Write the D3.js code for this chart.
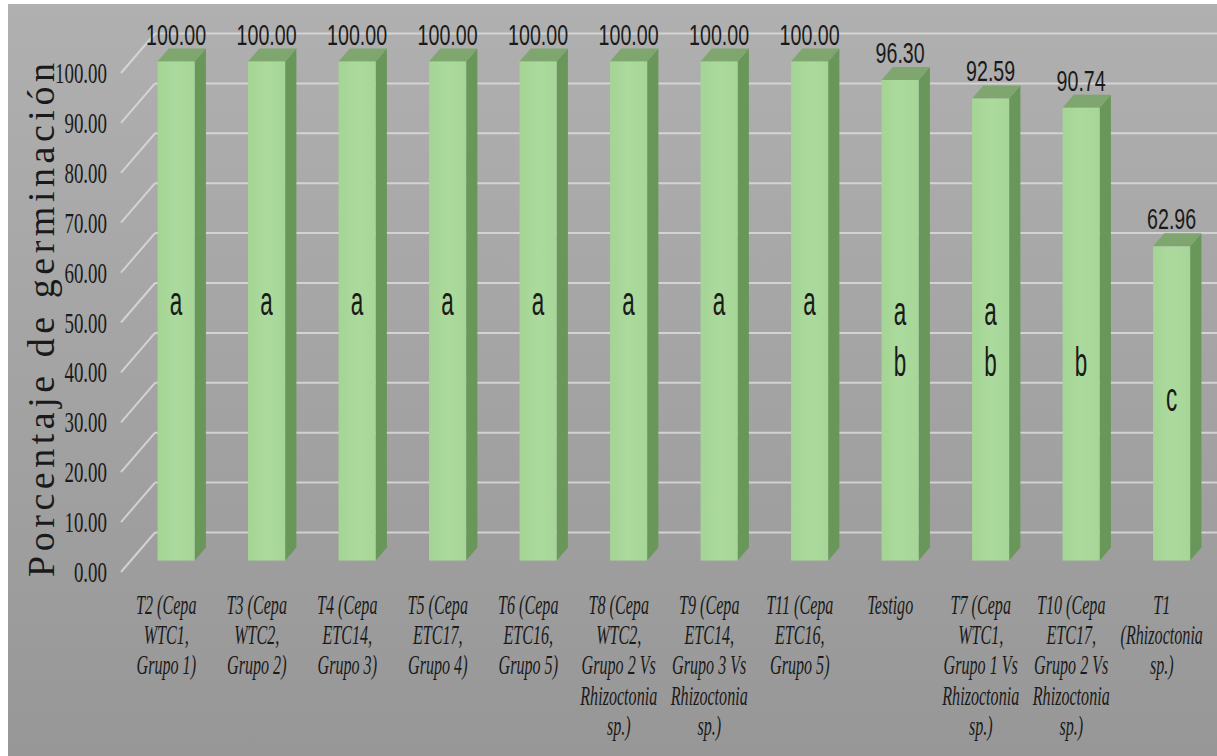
<!DOCTYPE html>
<html>
<head>
<meta charset="utf-8">
<script src="https://cdn.jsdelivr.net/npm/d3@7"></script>
<style>
  html, body { margin: 0; padding: 0; background: #ffffff; }
  svg { display: block; }
</style>
</head>
<body>
<svg id="chart" width="1217" height="756"></svg>
<script>
// ---- data ----
const categories = [
  "T2 (Cepa\nWTC1,\nGrupo 1)",
  "T3 (Cepa\nWTC2,\nGrupo 2)",
  "T4 (Cepa\nETC14,\nGrupo 3)",
  "T5 (Cepa\nETC17,\nGrupo 4)",
  "T6 (Cepa\nETC16,\nGrupo 5)",
  "T8 (Cepa\nWTC2,\nGrupo 2 Vs\nRhizoctonia\nsp.)",
  "T9 (Cepa\nETC14,\nGrupo 3 Vs\nRhizoctonia\nsp.)",
  "T11 (Cepa\nETC16,\nGrupo 5)",
  "Testigo",
  "T7 (Cepa\nWTC1,\nGrupo 1 Vs\nRhizoctonia\nsp.)",
  "T10 (Cepa\nETC17,\nGrupo 2 Vs\nRhizoctonia\nsp.)",
  "T1\n(Rhizoctonia\nsp.)"
];
const germination = [100.00, 100.00, 100.00, 100.00, 100.00, 100.00, 100.00, 100.00, 96.30, 92.59, 90.74, 62.96];
const groupLetters = ["a", "a", "a", "a", "a", "a", "a", "a", "ab", "ab", "b", "c"];
const yTicks = [0, 10, 20, 30, 40, 50, 60, 70, 80, 90, 100];
const yTitle = "Porcentaje de germinación";

// ---- layout ----
const W = 1217, H = 756;
const svg = d3.select("#chart");
const defs = svg.append("defs");
const SERIF = "'Liberation Serif', 'DejaVu Serif', 'Times New Roman', serif";
const SANS = "'Liberation Sans', Arial, 'DejaVu Sans', sans-serif";

const bgGrad = defs.append("linearGradient").attr("id", "bg").attr("x1", 0).attr("y1", 0).attr("x2", 0).attr("y2", 1);
bgGrad.append("stop").attr("offset", "0%").attr("stop-color", "#b0b0b0");
bgGrad.append("stop").attr("offset", "100%").attr("stop-color", "#979797");

const frontGrad = defs.append("linearGradient").attr("id", "front").attr("x1", 0).attr("y1", 0).attr("x2", 1).attr("y2", 0);
frontGrad.append("stop").attr("offset", "0%").attr("stop-color", "#a4d594");
frontGrad.append("stop").attr("offset", "50%").attr("stop-color", "#acda9e");
frontGrad.append("stop").attr("offset", "100%").attr("stop-color", "#a6d697");

svg.append("rect").attr("x", 8).attr("y", 4).attr("width", W - 8).attr("height", H - 4).attr("fill", "url(#bg)");

// helper: horizontal squeeze factor so that a reference string reaches a target width
function squeeze(family, size, style, refText, targetWidth) {
  const t = svg.append("text").attr("font-family", family).attr("font-size", size)
    .attr("font-style", style).attr("opacity", 0).text(refText);
  const w = t.node().getComputedTextLength();
  t.remove();
  return w > 0 ? targetWidth / w : 0.6;
}

// 3D projection: depth vector for full plot depth
const depthX = 34, depthY = -39.5;
const barD1 = 0.29, barD2 = 0.62;

const x = d3.scaleBand().domain(d3.range(categories.length)).range([121, 1207])
  .paddingInner(0.59).paddingOuter(0.295);
const y = d3.scaleLinear().domain([0, 100]).range([572, 73]);

// gridlines: back wall + left wall diagonals
const grid = svg.append("g");
const wallX0 = 121;
yTicks.forEach(v => {
  const yf = y(v), yb = y(v) + depthY;
  grid.append("line").attr("x1", wallX0 + depthX).attr("x2", W).attr("y1", yb).attr("y2", yb)
    .attr("stroke", "#dadada").attr("stroke-width", 2).attr("stroke-opacity", 0.85);
  grid.append("line").attr("x1", wallX0).attr("y1", yf).attr("x2", wallX0 + depthX).attr("y2", yb)
    .attr("stroke", "#dadada").attr("stroke-width", 2).attr("stroke-opacity", 0.85);
});

// bars
const bars = svg.append("g");
const fdx = depthX * barD1, fdy = depthY * barD1;
const bdx = depthX * (barD2 - barD1), bdy = depthY * (barD2 - barD1);
const bw = x.bandwidth();

germination.forEach((v, i) => {
  const xl = x(i) + fdx, xr = xl + bw;
  const yt = y(v) + fdy, yb = y(0) + fdy;
  bars.append("path")
    .attr("d", `M${xr},${yt} L${xr + bdx},${yt + bdy} L${xr + bdx},${yb + bdy} L${xr},${yb} Z`)
    .attr("fill", "#699659");
  bars.append("path")
    .attr("d", `M${xl},${yt} L${xl + bdx},${yt + bdy} L${xr + bdx},${yt + bdy} L${xr},${yt} Z`)
    .attr("fill", "#7fa66e");
  bars.append("rect").attr("x", xl).attr("y", yt).attr("width", bw).attr("height", yb - yt)
    .attr("fill", "url(#front)");
});

// value labels
const valScale = squeeze(SANS, 29, "normal", "100.00", 60);
const labels = svg.append("g").attr("font-family", SANS).attr("fill", "#1a1a1a");
germination.forEach((v, i) => {
  const cx = x(i) + fdx + bw / 2;
  const by = y(v) + fdy + bdy - 4;
  labels.append("text")
    .attr("transform", `translate(${cx},${by}) scale(${valScale},1)`)
    .attr("text-anchor", "middle").attr("font-size", 29)
    .text(v.toFixed(2));
});

// group letters inside bars
const letterScale = squeeze(SANS, 40, "normal", "a", 12.5);
const letterLevels = { "a": [52], "ab": [50, 39.8], "b": [39.8], "c": [32.6] };
germination.forEach((v, i) => {
  const cx = x(i) + fdx + bw / 2;
  const letters = groupLetters[i].split("");
  const levels = letterLevels[groupLetters[i]];
  letters.forEach((ch, k) => {
    labels.append("text")
      .attr("transform", `translate(${cx},${y(levels[k]) + fdy}) scale(${letterScale},1)`)
      .attr("text-anchor", "middle").attr("dominant-baseline", "central")
      .attr("font-size", 40)
      .text(ch);
  });
});

// y axis tick labels
const tickScale = squeeze(SERIF, 29, "normal", "100.00", 52);
const yAxisG = svg.append("g").attr("font-family", SERIF).attr("fill", "#1a1a1a");
yTicks.forEach(v => {
  yAxisG.append("text")
    .attr("transform", `translate(107,${y(v)}) scale(${tickScale},1)`)
    .attr("text-anchor", "end").attr("dominant-baseline", "central")
    .attr("font-size", 29)
    .text(v.toFixed(2));
});

// x axis category labels
const catScale = squeeze(SERIF, 28, "italic", "Rhizoctonia", 77);
const xAxisG = svg.append("g").attr("font-family", SERIF)
  .attr("font-style", "italic").attr("fill", "#1a1a1a");
categories.forEach((c, i) => {
  const cx = x(i) + bw / 2;
  const t = xAxisG.append("text")
    .attr("transform", `translate(${cx},614) scale(${catScale},1)`)
    .attr("text-anchor", "middle").attr("font-size", 28);
  c.split("\n").forEach((line, k) => {
    t.append("tspan").attr("x", 0).attr("dy", k === 0 ? 0 : 30.2).text(line);
  });
});

// y axis title
svg.append("text")
  .attr("transform", "translate(54,320) rotate(-90)")
  .attr("text-anchor", "middle")
  .attr("font-family", SERIF)
  .attr("font-size", 38).attr("textLength", 514).attr("lengthAdjust", "spacing")
  .attr("fill", "#1a1a1a")
  .text(yTitle);
</script>
</body>
</html>
